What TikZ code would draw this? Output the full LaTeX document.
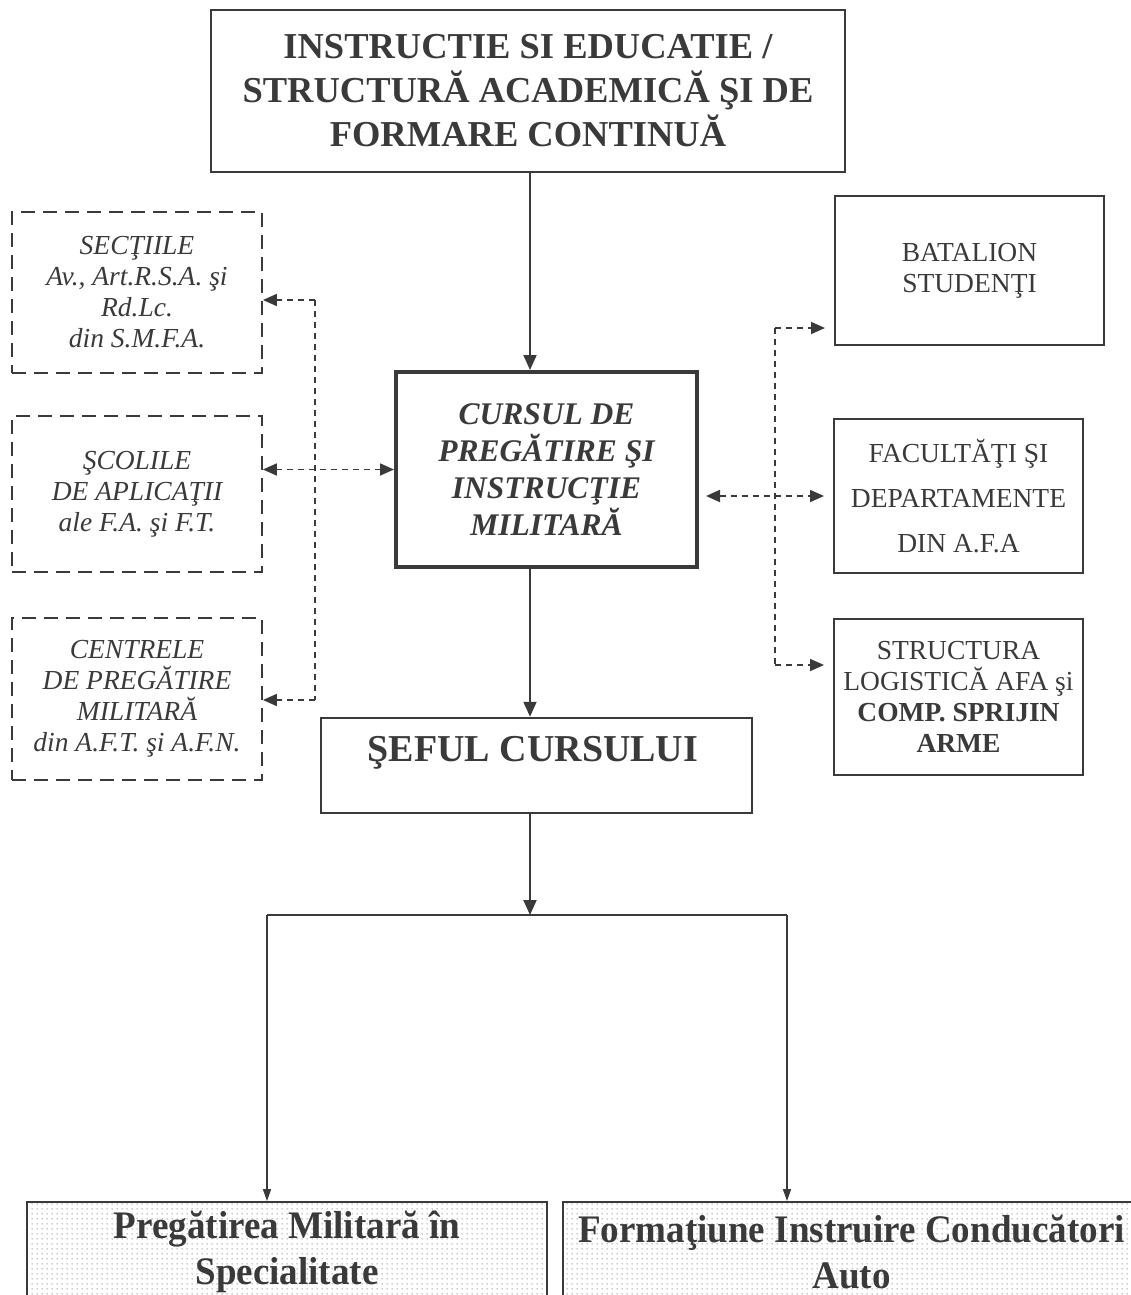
\documentclass[tikz,border=0pt]{standalone}
\usepackage{fontspec}
\setmainfont{Liberation Serif}
\newfontfamily\condfont[FakeStretch=0.95]{Liberation Serif}
\usetikzlibrary{arrows.meta,patterns,patterns.meta}
\definecolor{ink}{HTML}{3A3A3A}
\tikzdeclarepattern{
  name=bigdots, type=uncolored,
  bounding box={(0pt,0pt) and (5pt,5pt)},
  tile size={(5pt,5pt)},
  code={\fill (2.5pt,2.5pt) circle (0.75pt);}
}
\begin{document}
\begin{tikzpicture}[x=1pt,y=-1pt,
  box/.style={draw=ink, line width=2pt, inner sep=0pt, align=center, text=ink},
  dbox/.style={box, line width=1.8pt, dash pattern=on 14pt off 8pt},
  dotbox/.style={box, line width=1.8pt, pattern=bigdots, pattern color=black!55},
  conn/.style={draw=ink, line width=2pt, -{Triangle[length=15pt,width=13pt]}},
  smallconn/.style={draw=ink, line width=1.5pt, -{Triangle[length=12pt,width=8pt]}},
  plainline/.style={draw=ink, line width=2pt},
  dline/.style={draw=ink, line width=1.8pt, dash pattern=on 6pt off 5pt},
  dconn/.style={dline, -{Triangle[length=14pt,width=12pt]}},
  dconntwo/.style={dline, {Triangle[length=14pt,width=12pt]}-{Triangle[length=14pt,width=12pt]}},
  fa/.style={font=\fontsize{27.5}{31}\selectfont\itshape},
  fr/.style={font=\fontsize{27.5}{31}\selectfont}
]
\useasboundingbox (0,0) rectangle (1131,1295);
\clip (0,0) rectangle (1131,1295);

% top box
\node[box, minimum width=634pt, minimum height=162pt,
      font=\fontsize{36.5}{44}\selectfont\bfseries] (top) at (528,91)
  {INSTRUCTIE SI EDUCATIE /\\STRUCTURĂ ACADEMICĂ ŞI DE\\FORMARE CONTINUĂ};

% left dashed boxes
\node[dbox, fa, minimum width=250pt, minimum height=161pt] (sec) at (137,292.5)
  {SECŢIILE\\Av., Art.R.S.A. şi\\Rd.Lc.\\din S.M.F.A.};
\node[dbox, fa, minimum width=250pt, minimum height=156pt] (sco) at (137,494)
  {ŞCOLILE\\DE APLICAŢII\\ale F.A. şi F.T.};
\node[dbox, fa, minimum width=250pt, minimum height=162pt] (cpm) at (137,699)
  {CENTRELE\\DE PREGĂTIRE\\MILITARĂ\\din A.F.T. şi A.F.N.};

% centre box
\node[box, line width=4pt, minimum width=301pt, minimum height=195pt,
      font=\fontsize{31.5}{37}\selectfont\bfseries\itshape] (ctr) at (546.5,469.5)
  {CURSUL DE\\PREGĂTIRE ŞI\\INSTRUCŢIE\\MILITARĂ};

% right boxes
\node[box, fr, minimum width=269pt, minimum height=149pt] (bat) at (969.5,270.5)
  {BATALION\\STUDENŢI};
\node[box, font=\fontsize{27.5}{45}\selectfont, minimum width=249pt, minimum height=154pt] (fac) at (958.5,496)
  {FACULTĂŢI ŞI\\DEPARTAMENTE\\DIN A.F.A};
\node[box, fr, minimum width=249pt, minimum height=156pt] (str) at (958.5,697)
  {STRUCTURA\\LOGISTICĂ AFA şi\\\textbf{COMP. SPRIJIN}\\\textbf{ARME}};

% sef box
\node[box, line width=2.5pt, minimum width=431pt, minimum height=95pt] (sef) at (536.5,765.5) {};
\node[text=ink, font=\fontsize{38}{44}\selectfont\bfseries, inner sep=0pt] (seft) at (533,753) {ŞEFUL CURSULUI};

% bottom boxes
\node[dotbox, minimum width=520pt, minimum height=100pt,
      font=\fontsize{39}{46}\selectfont\condfont\bfseries] (pm) at (287,1252)
  {Pregătirea Militară în\\Specialitate};
\node[dotbox, minimum width=577pt, minimum height=100pt,
      font=\fontsize{39}{46}\selectfont\condfont\bfseries] (fi) at (851.5,1252)
  {Formaţiune Instruire Conducători\\Auto};

% coordinates
\coordinate (col) at (530,0);
\coordinate (lt) at (315,300);
\coordinate (lb) at (315,700);
\coordinate (rt) at (775,328);
\coordinate (rb) at (775,665);
\coordinate (ob1) at (267,915);
\coordinate (ob2) at (787,915);

% solid connectors
\draw[conn] (top.south -| col) -- (ctr.north -| col);
\draw[conn] (ctr.south -| col) -- (sef.north -| col);
\draw[conn] (sef.south -| col) -- (ob1 -| col);
\draw[plainline] (ob1) -- (ob2);
\draw[smallconn] (ob1) -- (ob1 |- pm.north);
\draw[smallconn] (ob2) -- (ob2 |- fi.north);

% left dashed connectors
\draw[dline] (lt) -- (lb);
\draw[dconn] (lt) -- (lt -| sec.east);
\draw[dconn] (lb) -- (lb -| cpm.east);
\draw[dconntwo] (sco.east |- ctr.west) -- (ctr.west);

% right dashed connectors
\draw[dline] (rt) -- (rb);
\draw[dconn, shorten >=9pt] (rt) -- (rt -| bat.west);
\draw[dconn, shorten >=9pt] (rb) -- (rb -| str.west);
\draw[dconntwo, shorten >=9pt, shorten <=7pt] (ctr.east |- fac.west) -- (fac.west);
\end{tikzpicture}
\end{document}
